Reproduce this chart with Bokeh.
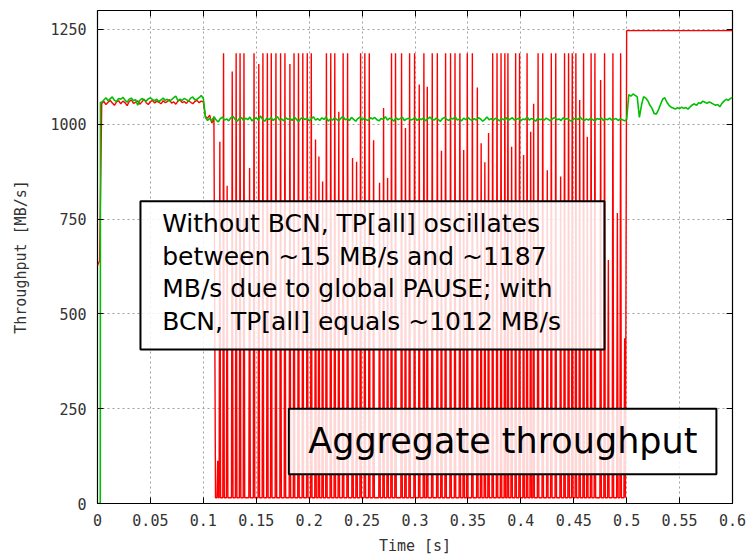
import numpy as np
from bokeh.plotting import figure
from bokeh.models import Range1d, FixedTicker, LinearAxis, BoxAnnotation, Label
from bokeh.embed import file_html
from bokeh.resources import INLINE

# ---------------------------------------------------------------------------
# Data (times in milliseconds, throughput in MB/s)
# ---------------------------------------------------------------------------
STEP_MS = 2.0          # sampling interval of the smooth traces
LEG_MS = 0.7           # half width of one PAUSE spike
RED_FLOOR = 15         # throughput while the link is paused

# --- without BCN (red) ---
red_start_ms = [0.0, 2.0]
red_start_val = [628, 640]
red_pre = [1055, 1060, 1052, 1058, 1063, 1056, 1050, 1059, 1062, 1054,
           1061, 1057, 1049, 1060, 1064, 1055, 1058, 1062, 1053, 1059,
           1066, 1057, 1052, 1060, 1063, 1056, 1061, 1058, 1054, 1062,
           1057, 1060, 1065, 1056, 1059, 1053, 1061, 1064, 1057, 1060,
           1055, 1062, 1058, 1054, 1060, 1063, 1057, 1061, 1059]      # 4..100 ms
red_settle = [1020, 1016, 1024, 1003, 1018]                           # 102..110 ms
RED_DROP_MS = 111.5

spike_ms = [113.6, 115.6, 119.1, 122.5, 127.3, 131.0, 134.7, 138.4, 143.7, 147.9,
            152.4, 156.3, 160.5, 164.2, 168.6, 173.0, 177.1, 181.8, 185.7, 189.9,
            194.0, 198.2, 202.0, 206.0, 209.2, 212.7, 216.3, 220.4, 224.2, 228.0,
            232.1, 236.3, 241.0, 244.8, 248.6, 252.6, 256.8, 260.9, 266.5, 270.3,
            274.1, 277.8, 281.6, 287.3, 291.0, 294.9, 299.6, 304.0, 308.4, 311.6,
            316.3, 321.1, 325.0, 328.9, 333.6, 337.8, 342.4, 346.0, 349.4, 354.2,
            358.9, 362.5, 366.0, 369.5, 373.4, 377.5, 381.3, 384.9, 387.8, 391.3,
            395.1, 398.8, 402.6, 405.9, 409.3, 412.1, 416.3, 420.7, 425.0, 428.8,
            433.0, 437.6, 441.3, 445.1, 448.6, 452.0, 455.6, 459.3, 462.8, 466.4,
            470.0, 475.4, 479.1, 482.7, 487.0, 491.2, 494.3, 498.1]
spike_peak = [113, 954, 1187, 838, 1139, 1187, 1187, 1187, 885, 1187,
              1159, 1187, 1187, 1187, 1187, 1187, 1187, 1159, 1187, 1187,
              1187, 1187, 1187, 960, 915, 849, 1187, 1187, 1187, 1033,
              1187, 1187, 911, 901, 1187, 1187, 1187, 958, 846, 1043,
              858, 1187, 1187, 1187, 990, 1187, 1187, 1105, 1187, 1099,
              1187, 1187, 930, 1187, 1187, 1187, 1187, 932, 1187, 1187,
              1097, 950, 900, 977, 1187, 1187, 1187, 1187, 1187, 941,
              1187, 1187, 919, 1187, 980, 1054, 1187, 1187, 879, 1187,
              1187, 862, 1187, 1187, 1187, 1187, 1064, 1187, 967, 1187,
              1187, 1117, 1187, 642, 1187, 766, 1187, 436]
red_after_ms = [500.0, 600.0]
red_after_val = [1247, 1247]

# --- with BCN (green) ---
green_start_ms = [0.0, 2.6, 2.8]
green_start_val = [0, 0, 1058]
green_pre = [1058, 1064, 1070, 1062, 1067, 1072, 1063, 1060, 1068, 1066,
             1071, 1064, 1058, 1066, 1069, 1062, 1065, 1050, 1063, 1068,
             1064, 1061, 1067, 1070, 1065, 1062, 1066, 1060, 1064, 1069,
             1063, 1066, 1061, 1065, 1070, 1074, 1062, 1066, 1063, 1068,
             1065, 1061, 1069, 1072, 1064, 1066, 1070, 1076, 1068]    # 4..100 ms
green_bcn = [1018, 1010, 1016, 1008, 1020, 1012, 1006, 1015, 1019, 1011,
             1014, 1009, 1017, 1021, 1013, 1008, 1015, 1018, 1010, 1016,
             1012, 1019, 1009, 1014, 1017, 1011, 1022, 1013, 1008, 1016,
             1012, 1018, 1010, 1015, 1020, 1011, 1014, 1009, 1017, 1013,
             1016, 1010, 1019, 1013, 1007, 1015, 1018, 1012, 1016, 1009,
             1014, 1020, 1011, 1015, 1010, 1017, 1013, 1019, 1008, 1014,
             1011, 1017, 1013, 1009, 1016, 1021, 1012, 1014, 1010, 1018,
             1013, 1008, 1015, 1019, 1011, 1016, 1012, 1010, 1017, 1014,
             1018, 1012, 1009, 1015, 1013, 1020, 1011, 1016, 1014, 1008,
             1017, 1012, 1015, 1019, 1010, 1014, 1016, 1011, 1013, 1018,
             1010, 1015, 1012, 1017, 1009, 1014, 1019, 1013, 1011, 1016,
             1012, 1008, 1015, 1018, 1013, 1010, 1016, 1014, 1020, 1011,
             1014, 1009, 1016, 1012, 1018, 1013, 1010, 1015, 1011, 1017,
             1014, 1008, 1013, 1019, 1012, 1015, 1010, 1016, 1013, 1009,
             1015, 1012, 1018, 1010, 1014, 1017, 1011, 1013, 1016, 1009,
             1014, 1012, 1019, 1011, 1015, 1013, 1008, 1016, 1012, 1014,
             1011, 1016, 1013, 1009, 1015, 1018, 1012, 1014, 1010, 1017,
             1013, 1015, 1011, 1008, 1014, 1016, 1012, 1019, 1013, 1010,
             1014, 1011, 1016, 1012, 1009, 1015, 1013, 1017, 1010, 1014,
             1012, 1016, 1011, 1013, 1015, 1010, 1014, 1012, 1009, 1013]  # 102..500 ms
green_after = [1078, 1074, 1080, 1076, 1072, 1018, 1050, 1073, 1069, 1062,
               1050, 1042, 1028, 1027, 1038, 1052, 1066, 1070, 1058, 1050,
               1045, 1043, 1040, 1044, 1041, 1045, 1042, 1044, 1040, 1046,
               1051, 1054, 1050, 1057, 1055, 1061, 1058, 1055, 1059, 1056,
               1053, 1050, 1052, 1046, 1055, 1061, 1066, 1063, 1068, 1071]  # 502..600 ms

# axis ticks
x_ticks = [0, 0.05, 0.1, 0.15, 0.2, 0.25, 0.3, 0.35, 0.4, 0.45, 0.5, 0.55, 0.6]
x_tick_labels = ["0", "0.05", "0.1", "0.15", "0.2", "0.25", "0.3",
                 "0.35", "0.4", "0.45", "0.5", "0.55", "0.6"]
y_ticks = [0, 250, 500, 750, 1000, 1250]

# annotation texts
note_lines = ["Without BCN, TP[all] oscillates",
              "between ~15 MB/s and ~1187",
              "MB/s due to global PAUSE; with",
              "BCN, TP[all] equals ~1012 MB/s"]
caption = "Aggregate throughput"


def sampled(start_ms, values):
    """Regularly sampled trace starting at start_ms."""
    return [start_ms + i * STEP_MS for i in range(len(values))], list(values)


# assemble the red trace
red_t, red_v = list(red_start_ms), list(red_start_val)
for start, vals in ((4.0, red_pre), (102.0, red_settle)):
    t, v = sampled(start, vals)
    red_t += t
    red_v += v
red_t.append(RED_DROP_MS)
red_v.append(RED_FLOOR)
for ts, h in zip(spike_ms, spike_peak):
    red_t += [ts - LEG_MS, ts, ts + LEG_MS]
    red_v += [RED_FLOOR, h, RED_FLOOR]
red_t += red_after_ms
red_v += red_after_val

# assemble the green trace
green_t, green_v = list(green_start_ms), list(green_start_val)
for start, vals in ((4.0, green_pre), (102.0, green_bcn), (502.0, green_after)):
    t, v = sampled(start, vals)
    green_t += t
    green_v += v

red_s = np.array(red_t) / 1000.0
green_s = np.array(green_t) / 1000.0

# ---------------------------------------------------------------------------
# Figure
# ---------------------------------------------------------------------------
MONO = "DejaVu Sans Mono"
HAND = "DejaVu Sans"

p = figure(width=753, height=558, output_backend="svg", toolbar_location=None,
           x_range=Range1d(0, 0.6), y_range=Range1d(0, 1300),
           min_border_left=97, min_border_right=21, min_border_top=10,
           min_border_bottom=55)
p.background_fill_color = "white"
p.border_fill_color = "white"
p.outline_line_color = "black"
p.outline_line_width = 1.2

p.line(red_s, red_v, line_color="#ff0000", line_width=1.4)
p.line(green_s, green_v, line_color="#00c000", line_width=1.6)

# grid
for g in (p.xgrid, p.ygrid):
    g.grid_line_color = "#a0a0a0"
    g.grid_line_dash = "2 3"
    g.grid_line_width = 1
p.xgrid.ticker = FixedTicker(ticks=x_ticks)
p.ygrid.ticker = FixedTicker(ticks=y_ticks)


def style_axis(ax, ticks, show_labels):
    ax.ticker = FixedTicker(ticks=ticks)
    ax.axis_line_color = None
    ax.major_tick_in = 6
    ax.major_tick_out = 0
    ax.major_tick_line_color = "black"
    ax.minor_tick_line_color = None
    if show_labels:
        ax.major_label_text_font = MONO
        ax.major_label_text_font_size = "15px"
        ax.major_label_text_color = "#333333"
        ax.axis_label_text_font = MONO
        ax.axis_label_text_font_size = "15px"
        ax.axis_label_text_font_style = "normal"
        ax.axis_label_text_color = "#333333"
    else:
        ax.major_label_text_font_size = "0px"
        ax.major_label_standoff = 0


xa = p.xaxis[0]
style_axis(xa, x_ticks, True)
xa.major_label_overrides = {t: s for t, s in zip(x_ticks, x_tick_labels)}
xa.major_label_standoff = 10
xa.axis_label = "Time [s]"
xa.axis_label_standoff = 8

ya = p.yaxis[0]
style_axis(ya, y_ticks, True)
ya.major_label_standoff = 11
ya.axis_label = "Throughput [MB/s]"
ya.axis_label_standoff = 17

top_axis = LinearAxis()
style_axis(top_axis, x_ticks, False)
p.add_layout(top_axis, "above")
right_axis = LinearAxis()
style_axis(right_axis, y_ticks, False)
p.add_layout(right_axis, "right")

# annotation boxes
box_style = dict(fill_color="white", fill_alpha=0.84,
                 line_color="black", line_alpha=1.0, line_width=2)
p.add_layout(BoxAnnotation(left=0.0406, right=0.479, bottom=406, top=797, **box_style))
p.add_layout(BoxAnnotation(left=0.1808, right=0.5848, bottom=77, top=250, **box_style))

for line_text, y in zip(note_lines, [738, 652, 566, 480]):
    p.add_layout(Label(x=0.0611, y=y, text=line_text, text_align="left",
                       text_baseline="alphabetic", text_font=HAND,
                       text_font_size="25px", text_color="black"))

p.add_layout(Label(x=0.383, y=165, text=caption, text_align="center",
                   text_baseline="alphabetic", text_font=HAND,
                   text_font_size="35px", text_color="black"))

open("out.html", "w").write(file_html(p, INLINE))
